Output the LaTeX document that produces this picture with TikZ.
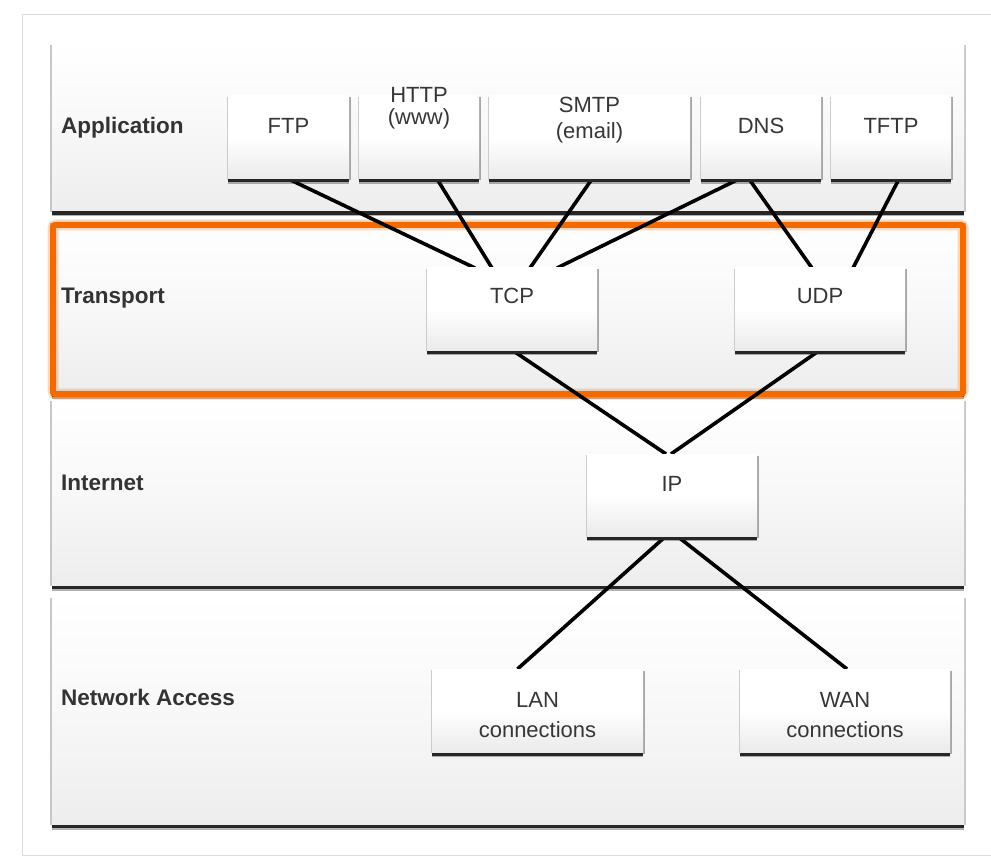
\documentclass[tikz,border=0pt]{standalone}
\usepackage{fontspec}
\setmainfont{Liberation Sans}
\usetikzlibrary{shadows}

\definecolor{ink}{HTML}{333333}
\definecolor{boxink}{HTML}{363636}
\definecolor{framecol}{HTML}{DCDCDC}
\definecolor{hilite}{HTML}{F26A00}
\definecolor{panelbottom}{HTML}{EDEDED}
\definecolor{boxbottom}{HTML}{EAEAEA}

\pgfdeclarelayer{back}
\pgfdeclarelayer{wires}
\pgfsetlayers{back,wires,main}

\tikzset{
  panel/.style={rectangle, inner sep=0pt, outer sep=0pt,
    minimum width=912pt,
    top color=white, bottom color=panelbottom, middle color=white!60!panelbottom,
    general shadow={fill=black!22, shadow xshift=-2pt, shadow yshift=-1pt},
    general shadow={fill=black!22, shadow xshift=2pt, shadow yshift=-1pt},
    general shadow={fill=black, opacity=0.3, shadow yshift=-5.5pt},
    general shadow={fill=black!85, shadow yshift=-4pt}},
  protobox/.style={rectangle, inner sep=0pt, outer sep=0pt,
    top color=white, bottom color=boxbottom, middle color=white,
    general shadow={fill=black!20, shadow xshift=-1.5pt, shadow yshift=-1pt},
    general shadow={fill=black!35, shadow xshift=2pt, shadow yshift=-1.5pt},
    general shadow={fill=black, opacity=0.3, shadow yshift=-5pt},
    general shadow={fill=black!85, shadow yshift=-3.5pt}},
  layerlabel/.style={anchor=base west, inner sep=0pt, text=ink,
    font=\bfseries\fontsize{22.5}{26}\selectfont},
  boxtext/.style={anchor=base, inner sep=0pt, text=boxink,
    font=\fontsize{22}{26}\selectfont},
  wire/.style={draw=black, line width=3.6pt},
  hiliteglow/.style={draw=hilite, opacity=0.25, line width=11pt, rounded corners=3pt},
  hiliteline/.style={draw=hilite, line width=6pt, rounded corners=2pt}
}

\begin{document}
\begin{tikzpicture}[x=1pt, y=-1pt]
  \useasboundingbox (0,0) rectangle (991,861);

  % outer frame and the four layer panels
  \begin{pgfonlayer}{back}
    \fill[white] (0,0) rectangle (991,861);
    \draw[framecol, line width=1pt] (1000,15) -- (22,15) -- (22,855) -- (1000,855);

    \node[panel, minimum height=167pt] (app)    at (508,127.5) {};
    \node[panel, minimum height=171pt] (trans)  at (508,307.5) {};
    \node[panel, minimum height=185pt] (inet)   at (508,492.5) {};
    \node[panel, minimum height=227pt] (netacc) at (508,710.5) {};

    % highlighted transport layer
    \draw[hiliteglow] (53,225) rectangle (963,394);
    \draw[hiliteline] (53,225) rectangle (963,394);

    \node[layerlabel] (app-l)    at (61,134) {Application};
    \node[layerlabel] (trans-l)  at (61,303) {Transport};
    \node[layerlabel] (inet-l)   at (61,490) {Internet};
    \node[layerlabel] (netacc-l) at (61,705) {Network Access};
  \end{pgfonlayer}

  % protocol boxes
  \node[protobox, minimum width=121pt, minimum height=83pt] (ftp)  at (288.5,137.5) {};
  \node[protobox, minimum width=120pt, minimum height=83pt] (http) at (419,137.5) {};
  \node[protobox, minimum width=201pt, minimum height=83pt] (smtp) at (589.5,137.5) {};
  \node[protobox, minimum width=120pt, minimum height=83pt] (dns)  at (761,137.5) {};
  \node[protobox, minimum width=120pt, minimum height=83pt] (tftp) at (891,137.5) {};

  \node[protobox, minimum width=170pt, minimum height=82pt] (tcp) at (512,309) {};
  \node[protobox, minimum width=170pt, minimum height=82pt] (udp) at (820,309) {};

  \node[protobox, minimum width=170pt, minimum height=82pt] (ip) at (672,495) {};

  \node[protobox, minimum width=211pt, minimum height=83pt] (lan) at (537.5,710.5) {};
  \node[protobox, minimum width=210pt, minimum height=83pt] (wan) at (845,710.5) {};

  % box texts
  \node[boxtext] (ftp-t)   at (288.5,134) {FTP};
  \node[boxtext] (http-t)  at (419,103)   {HTTP};
  \node[boxtext] (http-s)  at (419,125)   {(www)};
  \node[boxtext] (smtp-t)  at (589.5,113) {SMTP};
  \node[boxtext] (smtp-s)  at (589.5,139) {(email)};
  \node[boxtext] (dns-t)   at (761,134)   {DNS};
  \node[boxtext] (tftp-t)  at (891,134)   {TFTP};
  \node[boxtext] (tcp-t)   at (512,303)   {TCP};
  \node[boxtext] (udp-t)   at (820,303)   {UDP};
  \node[boxtext] (ip-t)    at (672,491)   {IP};
  \node[boxtext] (lan-t)   at (537.5,707) {LAN};
  \node[boxtext] (lan-s)   at (537.5,737) {connections};
  \node[boxtext] (wan-t)   at (845,707)   {WAN};
  \node[boxtext] (wan-s)   at (845,737)   {connections};

  % connectors between the layers
  \begin{pgfonlayer}{wires}
    \draw[wire] (ftp.south) -- ([xshift=-37pt]tcp.north);
    \draw[wire] ([xshift=18pt]http.south) -- ([xshift=-20pt]tcp.north);
    \draw[wire] ([xshift=2.5pt]smtp.south) -- ([xshift=18pt]tcp.north);
    \draw[wire] ([xshift=-22pt]dns.south) -- ([xshift=45pt]tcp.north);
    \draw[wire] ([xshift=-12pt]dns.south) -- ([xshift=-8pt]udp.north);
    \draw[wire] ([xshift=8pt]tftp.south) -- ([xshift=33pt]udp.north);
    \draw[wire] (tcp.south) -- ([xshift=-6pt]ip.north);
    \draw[wire] (udp.south) -- ([xshift=-1pt]ip.north);
    \draw[wire] ([xshift=-6pt]ip.south) -- ([xshift=-20pt]lan.north);
    \draw[wire] ([xshift=5pt]ip.south) -- ([xshift=2pt]wan.north);
  \end{pgfonlayer}
\end{tikzpicture}
\end{document}
